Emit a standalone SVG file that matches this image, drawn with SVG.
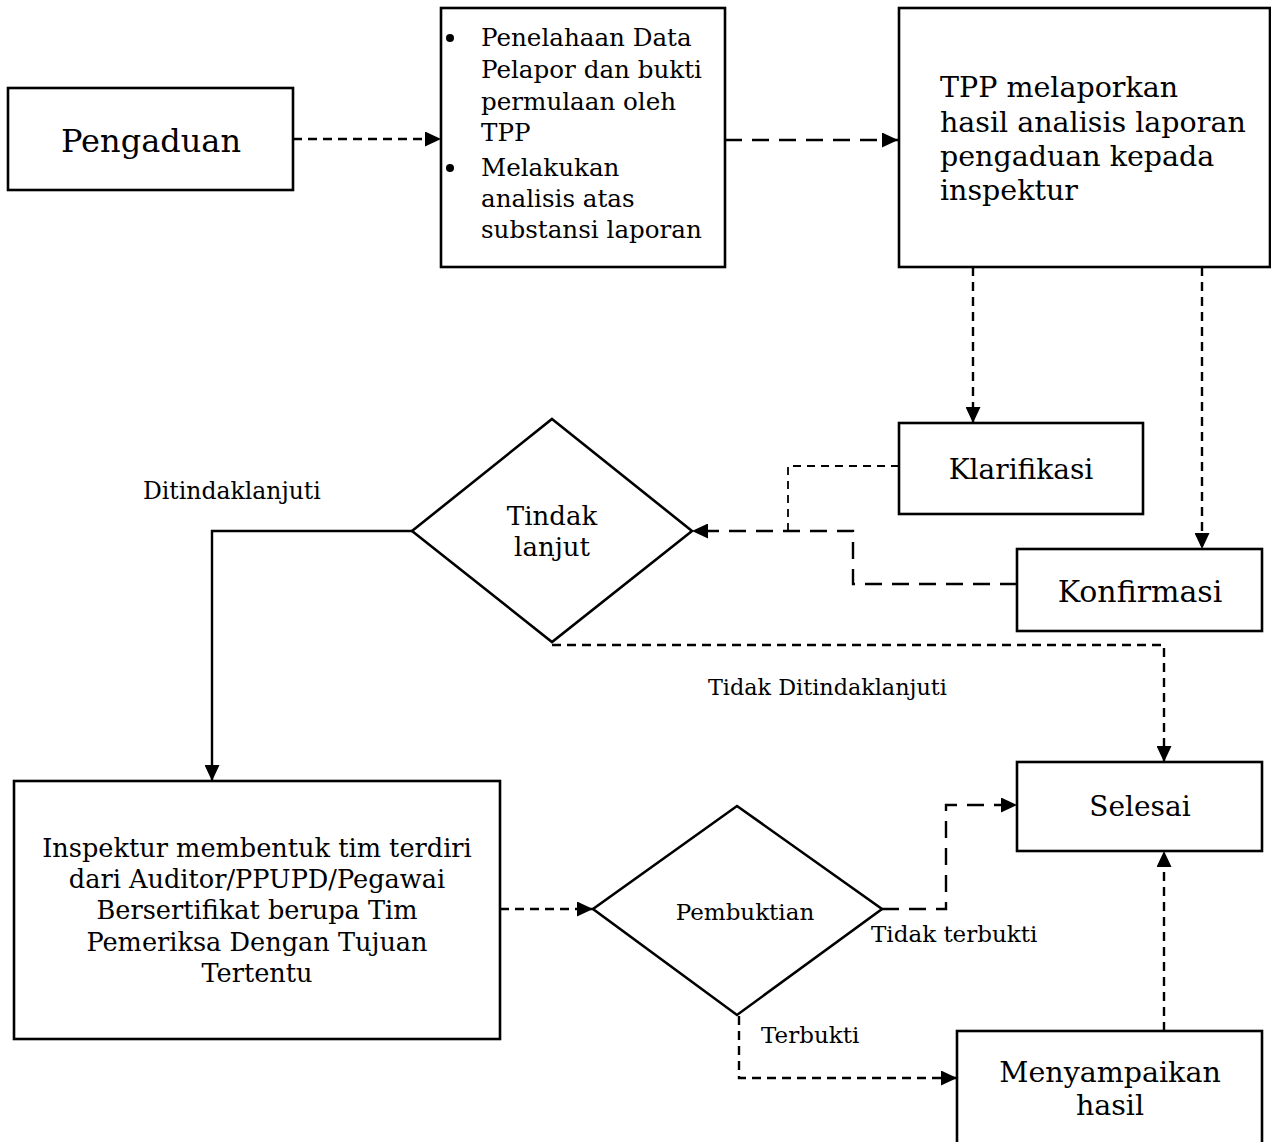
<svg xmlns="http://www.w3.org/2000/svg" width="1271" height="1142" viewBox="0 0 1271 1142">
<style>
  .box { fill: #fff; stroke: #000; stroke-width: 2.6; }
  .t { font-family: "DejaVu Serif", "Liberation Serif", serif; fill: #000; }
  .c { text-anchor: middle; }
  .ln { fill: none; stroke: #000; stroke-width: 2.4; }
  .d1 { stroke-dasharray: 9 6; }
  .d2 { stroke-dasharray: 17 10; }
  .d3 { stroke-dasharray: 8 6; stroke-width: 1.8; }
</style>
<defs>
  <marker id="ah" markerUnits="userSpaceOnUse" markerWidth="17" markerHeight="15" refX="16" refY="7.5" orient="auto">
    <path d="M0,0 L16,7.5 L0,15 Z" fill="#000"/>
  </marker>
</defs>
<rect width="1271" height="1142" fill="#fff"/>

<g id="connectors">
  <path class="ln d1" d="M293,139 H441" marker-end="url(#ah)"/>
  <path class="ln d2" d="M725,140 H898" marker-end="url(#ah)"/>
  <path class="ln d1" d="M973,267 V423" marker-end="url(#ah)"/>
  <path class="ln d1" d="M1202,267 V549" marker-end="url(#ah)"/>
  <path class="ln d3" d="M899,466 H788 V531"/>
  <path class="ln d2" d="M1017,584 H853 V531 H692" marker-end="url(#ah)"/>
  <path class="ln" d="M412,531 H212 V781" marker-end="url(#ah)"/>
  <path class="ln d1" d="M552,645 H1164 V762" marker-end="url(#ah)"/>
  <path class="ln d1" d="M500,909 H593" marker-end="url(#ah)"/>
  <path class="ln d2" d="M882,909 H946 V805 H1017" marker-end="url(#ah)"/>
  <path class="ln d1" d="M739,1016 V1078 H957" marker-end="url(#ah)"/>
  <path class="ln d1" d="M1164,1031 V851" marker-end="url(#ah)"/>
  <text class="t" x="143" y="499" font-size="23.5">Ditindaklanjuti</text>
  <text class="t" x="708" y="695" font-size="22.3">Tidak Ditindaklanjuti</text>
  <text class="t" x="871" y="942" font-size="23">Tidak terbukti</text>
  <text class="t" x="761" y="1043" font-size="23">Terbukti</text>
</g>

<g id="pengaduan">
  <rect class="box" x="8" y="88" width="285" height="102"/>
  <text class="t c" x="151" y="152" font-size="32">Pengaduan</text>
</g>

<g id="penelahaan">
  <rect class="box" x="441" y="8" width="284" height="259"/>
  <circle cx="450" cy="38" r="4" fill="#000"/>
  <circle cx="450" cy="168" r="4" fill="#000"/>
  <g class="t" font-size="24.6">
    <text x="481" y="46">Penelahaan Data</text>
    <text x="481" y="78">Pelapor dan bukti</text>
    <text x="481" y="110">permulaan oleh</text>
    <text x="481" y="141">TPP</text>
    <text x="481" y="176">Melakukan</text>
    <text x="481" y="207">analisis atas</text>
    <text x="481" y="238">substansi laporan</text>
  </g>
</g>

<g id="tpp">
  <rect class="box" x="899" y="8" width="371" height="259"/>
  <g class="t" font-size="28.5">
    <text x="940" y="97">TPP melaporkan</text>
    <text x="940" y="132">hasil analisis laporan</text>
    <text x="940" y="166">pengaduan kepada</text>
    <text x="940" y="200">inspektur</text>
  </g>
</g>

<g id="klarifikasi">
  <rect class="box" x="899" y="423" width="244" height="91"/>
  <text class="t c" x="1021" y="479" font-size="28">Klarifikasi</text>
</g>

<g id="konfirmasi">
  <rect class="box" x="1017" y="549" width="245" height="82"/>
  <text class="t c" x="1140" y="602" font-size="30">Konfirmasi</text>
</g>

<g id="tindak-lanjut">
  <polygon class="box" points="552,419 692,531 552,642 412,531"/>
  <text class="t c" x="552" y="525" font-size="26">Tindak</text>
  <text class="t c" x="552" y="556" font-size="26">lanjut</text>
</g>

<g id="inspektur">
  <rect class="box" x="14" y="781" width="486" height="258"/>
  <g class="t c" font-size="25.6">
    <text x="257" y="857">Inspektur membentuk tim terdiri</text>
    <text x="257" y="888">dari Auditor/PPUPD/Pegawai</text>
    <text x="257" y="919">Bersertifikat berupa Tim</text>
    <text x="257" y="951">Pemeriksa Dengan Tujuan</text>
    <text x="257" y="982">Tertentu</text>
  </g>
</g>

<g id="pembuktian">
  <polygon class="box" points="737,806 882,909 737,1015 593,909"/>
  <text class="t c" x="745" y="920" font-size="23">Pembuktian</text>
</g>

<g id="selesai">
  <rect class="box" x="1017" y="762" width="245" height="89"/>
  <text class="t c" x="1140" y="816" font-size="28">Selesai</text>
</g>

<g id="menyampaikan">
  <rect class="box" x="957" y="1031" width="305" height="125"/>
  <text class="t c" x="1110" y="1082" font-size="28.5">Menyampaikan</text>
  <text class="t c" x="1110" y="1115" font-size="28.5">hasil</text>
</g>
</svg>
